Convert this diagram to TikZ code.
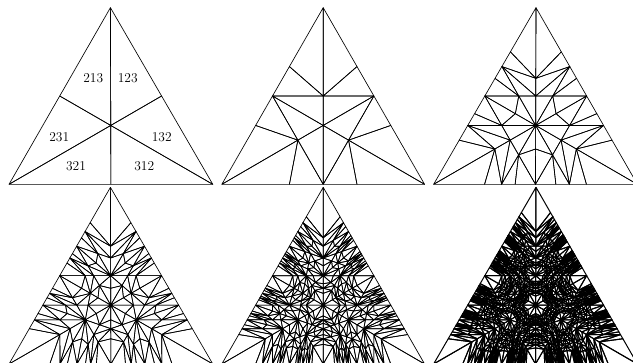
\documentclass[tikz,border=0pt]{standalone}
\usepackage{fontspec}
\newcount\brunlevel
\makeatletter
% screen position of the homogeneous point (#1,#2,#3), in units of 0.01pt
\newcommand{\brunpt}[3]{%
  \the\numexpr((#1)*\vax+(#2)*\vbx+(#3)*\vcx)/((#1)+(#2)+(#3))\relax\space
  \the\numexpr((#1)*\vay+(#2)*\vby+(#3)*\vcy)/((#1)+(#2)+(#3))\relax\space}
% cell with basis A=#1#2#3, B=#4#5#6, C=#7#8#9: corners A, A+B, A+B+C
\newcommand{\brun}[9]{%
  \edef\brunargs{{#1}{#2}{#3}{#4}{#5}{#6}{#7}{#8}{#9}}%
  \expandafter\brunb\brunargs}
\newcommand{\brunb}[9]{%
  \ifnum\brunlevel>1
    \begingroup
    \advance\brunlevel-1
    \edef\abi{\the\numexpr#1+#4\relax}%
    \edef\abj{\the\numexpr#2+#5\relax}%
    \edef\abk{\the\numexpr#3+#6\relax}%
    \brun{#1}{#2}{#3}{\abi}{\abj}{\abk}{#7}{#8}{#9}%
    \brun{\abi}{\abj}{\abk}{#1}{#2}{#3}{#7}{#8}{#9}%
    \brun{\abi}{\abj}{\abk}{#7}{#8}{#9}{#1}{#2}{#3}%
    \endgroup
  \else
    \edef\barylit{\brunpt{#1}{#2}{#3}m
      \brunpt{#1+#4}{#2+#5}{#3+#6}l
      \brunpt{#1+#4+#7}{#2+#5+#8}{#3+#6+#9}l h S}%
    \expandafter\pgfsys@invoke\expandafter{\barylit}%
  \fi}
% level, left x, apex x, right x, base y, apex y (in pt), line width (0.01pt)
\newcommand{\barypanel}[7]{%
  \pgfsys@beginscope
  \pgfsys@transformcm{0.01}{0}{0}{0.01}{0pt}{0pt}%
  \pgfsys@invoke{#7 w 1 j 1 J}%
  \edef\vax{\the\numexpr#2*100\relax}\edef\vay{\the\numexpr#5*100\relax}%
  \edef\vbx{\the\numexpr#4*100\relax}\edef\vby{\the\numexpr#5*100\relax}%
  \edef\vcx{\the\numexpr#3*100\relax}\edef\vcy{\the\numexpr#6*100\relax}%
  \brunlevel=#1\relax
  \brun 100010001\brun 100001010\brun 010100001%
  \brun 010001100\brun 001100010\brun 001010100%
  \pgfsys@endscope}
\makeatother
\begin{document}
\begin{tikzpicture}[x=1pt,y=1pt,
  permlabel/.style={inner sep=0pt,font=\fontsize{13.5}{15}\selectfont}]
\useasboundingbox (0,0) rectangle (633,363);
\clip (0,0) rectangle (633,363);
\barypanel{1}{9}{110}{212}{178}{354}{65}
\barypanel{2}{221}{322}{423}{178}{354}{65}
\barypanel{3}{432}{534}{635}{178}{354}{65}
\barypanel{4}{9}{110}{212}{-1}{175}{65}
\barypanel{5}{221}{322}{423}{-1}{175}{70}
\barypanel{6}{432}{534}{635}{-1}{175}{100}
\node[permlabel] (p213) at (93.3,285.3) {213};
\node[permlabel] (p123) at (127.7,285.3) {123};
\node[permlabel] (p231) at (59.3,226.3) {231};
\node[permlabel] (p132) at (161.7,226.3) {132};
\node[permlabel] (p321) at (76,197.3) {321};
\node[permlabel] (p312) at (144.3,197.3) {312};
\end{tikzpicture}
\end{document}
